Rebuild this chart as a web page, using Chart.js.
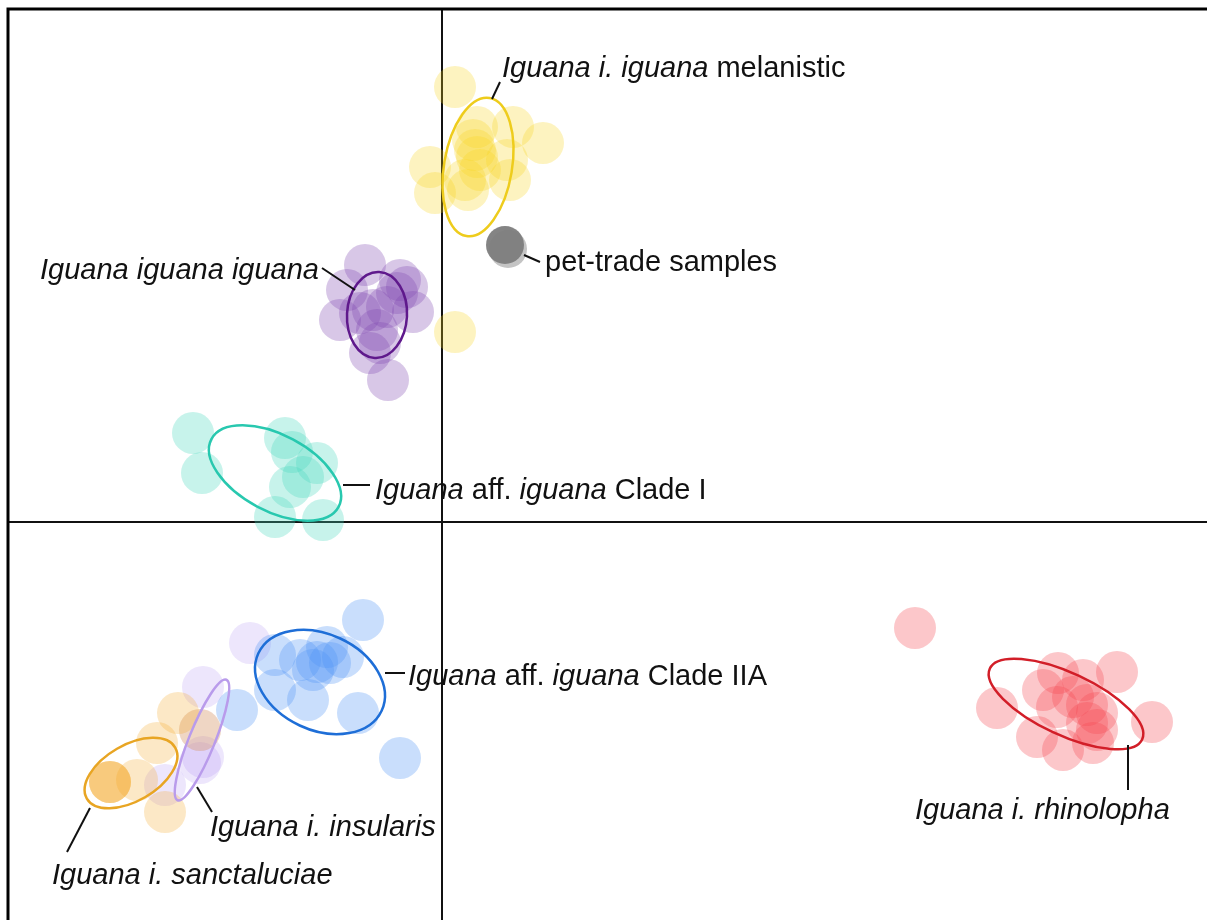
<!DOCTYPE html>
<html>
<head>
<meta charset="utf-8">
<script src="https://cdn.jsdelivr.net/npm/chart.js@4"></script>
<style>
  html, body { margin: 0; padding: 0; overflow: hidden; background: #fff; }
  #wrap { position: absolute; left: 0; top: 0; width: 1220px; height: 935px; }
</style>
</head>
<body>
<div id="wrap"><canvas id="pca" width="1220" height="935"></canvas></div>
<script>
// PC scores, one array per group
const melanistic = [[0.13,4.35],[1.01,3.79],[0.71,3.95],[-0.12,3.55],[-0.07,3.29],[0.31,3.82],[0.35,3.65],
  [0.38,3.52],[0.26,3.32],[0.35,3.95],[0.68,3.42],[0.65,3.62],[0.23,3.42],[0.33,3.72],[0.13,1.90]];
const petTrade = [[0.66,2.73],[0.63,2.77]];
const iguanaIguana = [[-0.77,2.57],[-0.35,2.35],[-0.42,2.42],[-0.95,2.32],[-1.02,2.02],[-0.69,2.12],[-0.55,2.15],
  [-0.29,2.10],[-0.82,2.09],[-0.65,1.92],[-0.72,1.69],[-0.54,1.42],[-0.45,2.29],[-0.62,1.79]];
const cladeI = [[-2.49,0.89],[-2.40,0.49],[-1.57,0.84],[-1.25,0.59],[-1.39,0.45],[-1.52,0.35],[-1.67,0.05],
  [-1.19,0.02],[-1.50,0.70]];
const cladeIIA = [[-0.79,-0.98],[-1.67,-1.33],[-1.42,-1.38],[-1.25,-1.40],[-1.12,-1.41],[-0.99,-1.35],[-1.29,-1.48],
  [-1.67,-1.68],[-1.34,-1.78],[-0.84,-1.91],[-0.42,-2.36],[-2.05,-1.88],[-1.15,-1.25]];
const insularis = [[-1.92,-1.21],[-2.39,-1.65],[-2.39,-2.35],[-2.42,-2.41],[-2.42,-2.08],[-2.77,-2.63]];
const sanctaluciae = [[-3.32,-2.60],[-3.32,-2.60],[-3.32,-2.60],[-3.05,-2.58],[-2.85,-2.21],[-2.64,-1.91],
  [-2.42,-2.08],[-2.77,-2.90]];
const rhinolopha = [[4.73,-1.06],[5.55,-1.86],[6.16,-1.51],[6.41,-1.58],[6.75,-1.50],[6.01,-1.68],[6.31,-1.75],
  [6.45,-1.83],[6.55,-1.91],[6.15,-1.85],[6.45,-2.01],[6.55,-2.08],[5.95,-2.15],[6.21,-2.28],[6.51,-2.21],[7.10,-2.00]];

// confidence ellipses: [cx, cy, semi-axis along x before rotation, semi-axis along y, rotation deg]
const ellipseMelanistic = [0.36, 3.55, 0.34, 0.70, 9.5];
const ellipseIguana = [-0.65, 2.07, 0.30, 0.43, 3];
const ellipseCladeI = [-1.67, 0.49, 0.72, 0.38, 28];
const ellipseCladeIIA = [-1.22, -1.60, 0.68, 0.48, 25];
const ellipseInsularis = [-2.40, -2.18, 0.13, 0.65, 22];
const ellipseSanctaluciae = [-3.11, -2.51, 0.51, 0.28, -30];
const ellipseRhinolopha = [6.24, -1.82, 0.84, 0.31, 25];

// labels: text parts [string, italic], anchor [x, y], leader line [x1, y1, x2, y2]
const labelParts = [
  [["Iguana i. iguana", true], [" melanistic", false]],
  [["pet-trade samples", false]],
  [["Iguana iguana iguana", true]],
  [["Iguana", true], [" aff. ", false], ["iguana", true], [" Clade I", false]],
  [["Iguana", true], [" aff. ", false], ["iguana", true], [" Clade IIA", false]],
  [["Iguana i. rhinolopha", true]],
  [["Iguana i. insularis", true]],
  [["Iguana i. sanctaluciae", true]]
];
const labelAnchors = [[0.60,4.53],[1.03,2.59],[-4.02,2.51],[-0.67,0.31],[-0.34,-1.55],[4.73,-2.89],[-2.32,-3.06],[-3.90,-3.54]];
const leaderLines = [[0.50,4.23,0.58,4.40],[0.82,2.67,0.98,2.60],[-1.20,2.54,-0.87,2.32],[-0.99,0.37,-0.72,0.37],
  [-0.57,-1.51,-0.37,-1.51],[6.86,-2.23,6.86,-2.68],[-2.45,-2.65,-2.30,-2.90],[-3.52,-2.86,-3.75,-3.30]];

const toXY = (arr) => arr.map(([x, y]) => ({ x, y }));

const groups = [
  { data: melanistic, fill: "rgba(248, 212, 30, 0.28)", line: "rgb(238, 204, 28)", ell: ellipseMelanistic },
  { data: iguanaIguana, fill: "rgba(125, 70, 175, 0.3)", line: "rgb(95, 25, 140)", ell: ellipseIguana },
  { data: cladeI, fill: "rgba(70, 215, 190, 0.3)", line: "rgb(40, 200, 175)", ell: ellipseCladeI },
  { data: cladeIIA, fill: "rgba(75, 145, 245, 0.3)", line: "rgb(30, 110, 215)", ell: ellipseCladeIIA },
  { data: sanctaluciae, fill: "rgba(245, 165, 35, 0.26)", line: "rgb(232, 165, 35)", ell: ellipseSanctaluciae },
  { data: insularis, fill: "rgba(165, 130, 240, 0.2)", line: "rgb(185, 155, 235)", ell: ellipseInsularis },
  { data: rhinolopha, fill: "rgba(245, 70, 80, 0.3)", line: "rgb(210, 30, 40)", ell: ellipseRhinolopha }
];

const datasets = groups.map((g) => ({
  data: toXY(g.data),
  backgroundColor: g.fill,
  borderWidth: 0,
  pointRadius: 21,
  pointHoverRadius: 21
}));
datasets.push({
  data: toXY(petTrade),
  backgroundColor: ["rgba(190, 190, 190, 0.9)", "rgba(125, 125, 125, 0.95)"],
  borderWidth: 0,
  pointRadius: 19,
  pointHoverRadius: 19
});

const overlay = {
  id: "overlay",
  beforeDatasetsDraw(chart) {
    const { ctx, chartArea: a, scales: { x, y } } = chart;
    ctx.save();
    ctx.strokeStyle = "#111";
    ctx.lineWidth = 2;
    ctx.beginPath();
    ctx.moveTo(x.getPixelForValue(0), a.top);
    ctx.lineTo(x.getPixelForValue(0), a.bottom);
    ctx.moveTo(a.left, y.getPixelForValue(0));
    ctx.lineTo(a.right, y.getPixelForValue(0));
    ctx.stroke();
    ctx.restore();
  },
  afterDatasetsDraw(chart) {
    const { ctx, chartArea: a, scales: { x, y } } = chart;
    const ux = x.getPixelForValue(1) - x.getPixelForValue(0);
    const uy = y.getPixelForValue(0) - y.getPixelForValue(1);
    ctx.save();

    // ellipses
    groups.forEach((g) => {
      const [cx, cy, rx, ry, rot] = g.ell;
      ctx.beginPath();
      ctx.ellipse(x.getPixelForValue(cx), y.getPixelForValue(cy), rx * ux, ry * uy, rot * Math.PI / 180, 0, Math.PI * 2);
      ctx.strokeStyle = g.line;
      ctx.lineWidth = 2.5;
      ctx.stroke();
    });

    // leader lines
    ctx.strokeStyle = "#111";
    ctx.lineWidth = 2;
    leaderLines.forEach(([x1, y1, x2, y2]) => {
      ctx.beginPath();
      ctx.moveTo(x.getPixelForValue(x1), y.getPixelForValue(y1));
      ctx.lineTo(x.getPixelForValue(x2), y.getPixelForValue(y2));
      ctx.stroke();
    });

    // labels
    ctx.fillStyle = "#111";
    ctx.textBaseline = "middle";
    labelParts.forEach((parts, i) => {
      let px = x.getPixelForValue(labelAnchors[i][0]);
      const py = y.getPixelForValue(labelAnchors[i][1]);
      parts.forEach(([txt, italic]) => {
        ctx.font = (italic ? "italic " : "") + "29px 'Liberation Sans', Arial, sans-serif";
        ctx.fillText(txt, px, py);
        px += ctx.measureText(txt).width;
      });
    });

    // frame
    ctx.strokeStyle = "#000";
    ctx.lineWidth = 3;
    ctx.strokeRect(a.left, a.top, a.right - a.left, a.bottom - a.top);
    ctx.restore();
  }
};

new Chart(document.getElementById("pca"), {
  type: "scatter",
  data: { datasets },
  options: {
    responsive: false,
    animation: false,
    events: [],
    layout: { autoPadding: false, padding: { left: 8, top: 9, right: 4, bottom: 4 } },
    plugins: { legend: { display: false }, tooltip: { enabled: false } },
    scales: {
      x: { display: false, min: -4.34, max: 7.74 },
      y: { display: false, min: -4.09, max: 5.13 }
    }
  },
  plugins: [overlay]
});
</script>
</body>
</html>
